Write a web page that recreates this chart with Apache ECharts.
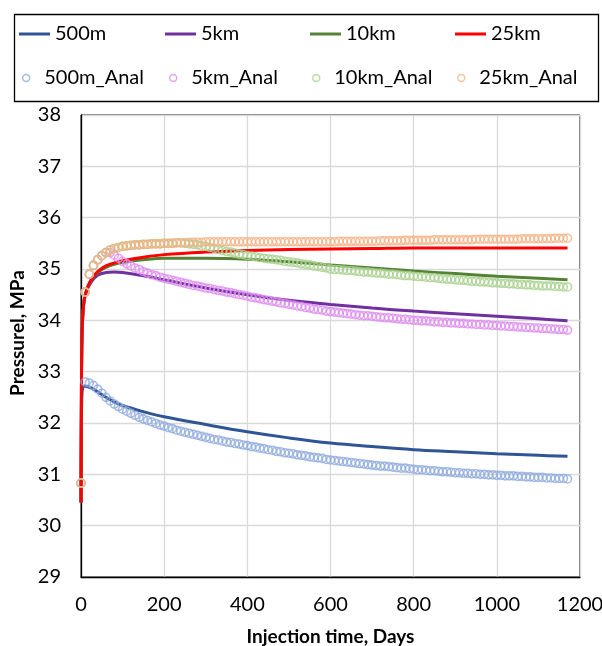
<!DOCTYPE html>
<html>
<head>
<meta charset="utf-8">
<title>Pressure vs injection time</title>
<script src="https://cdn.jsdelivr.net/npm/echarts@6/dist/echarts.min.js"></script>
<style>
  html, body { margin: 0; padding: 0; background: #fff; }
  #chart { width: 602px; height: 646px; }
</style>
</head>
<body>
<div id="chart"></div>
<script>
// simulation curves (days / MPa)
const lineDays = [0, 1, 2, 4, 8, 15, 25, 40, 60, 80, 100, 150, 200, 300, 400, 500, 600, 700, 800, 900, 1000, 1100, 1170];
const sim500m = [30.45, 32.0, 32.5, 32.68, 32.72, 32.71, 32.68, 32.61, 32.50, 32.41, 32.34, 32.22, 32.12, 31.97, 31.83, 31.71, 31.61, 31.54, 31.48, 31.44, 31.40, 31.37, 31.35];
const sim5km = [30.45, 32.6, 33.5, 34.05, 34.40, 34.60, 34.75, 34.88, 34.93, 34.94, 34.93, 34.87, 34.79, 34.63, 34.50, 34.39, 34.31, 34.24, 34.18, 34.13, 34.08, 34.03, 33.99];
const sim10km = [30.45, 32.6, 33.5, 34.05, 34.42, 34.63, 34.79, 34.93, 35.03, 35.09, 35.13, 35.18, 35.21, 35.21, 35.19, 35.14, 35.08, 35.02, 34.96, 34.91, 34.86, 34.82, 34.79];
const sim25km = [30.45, 32.6, 33.5, 34.05, 34.42, 34.63, 34.80, 34.95, 35.06, 35.12, 35.16, 35.23, 35.28, 35.33, 35.36, 35.38, 35.39, 35.40, 35.41, 35.41, 35.41, 35.41, 35.41];

// analytical solution, one value every 10 days
const analDays = [0, 10, 20, 30, 40, 50, 60, 70, 80, 90, 100,
  110, 120, 130, 140, 150, 160, 170, 180, 190, 200,
  210, 220, 230, 240, 250, 260, 270, 280, 290, 300,
  310, 320, 330, 340, 350, 360, 370, 380, 390, 400,
  410, 420, 430, 440, 450, 460, 470, 480, 490, 500,
  510, 520, 530, 540, 550, 560, 570, 580, 590, 600,
  610, 620, 630, 640, 650, 660, 670, 680, 690, 700,
  710, 720, 730, 740, 750, 760, 770, 780, 790, 800,
  810, 820, 830, 840, 850, 860, 870, 880, 890, 900,
  910, 920, 930, 940, 950, 960, 970, 980, 990, 1000,
  1010, 1020, 1030, 1040, 1050, 1060, 1070, 1080, 1090, 1100,
  1110, 1120, 1130, 1140, 1150, 1160, 1170];
const anal500m = [30.83, 32.80, 32.78, 32.73, 32.66, 32.58, 32.50, 32.43, 32.37, 32.32, 32.27,
  32.23, 32.19, 32.15, 32.11, 32.08, 32.05, 32.02, 31.99, 31.96, 31.94,
  31.91, 31.89, 31.86, 31.84, 31.82, 31.80, 31.78, 31.76, 31.74, 31.72,
  31.70, 31.68, 31.67, 31.65, 31.63, 31.62, 31.60, 31.59, 31.57, 31.56,
  31.54, 31.53, 31.51, 31.50, 31.48, 31.47, 31.45, 31.44, 31.42, 31.41,
  31.40, 31.38, 31.37, 31.36, 31.34, 31.33, 31.32, 31.31, 31.29, 31.28,
  31.27, 31.26, 31.25, 31.24, 31.23, 31.22, 31.21, 31.20, 31.19, 31.18,
  31.17, 31.16, 31.16, 31.15, 31.14, 31.13, 31.12, 31.12, 31.11, 31.10,
  31.09, 31.09, 31.08, 31.07, 31.07, 31.06, 31.05, 31.05, 31.04, 31.03,
  31.03, 31.02, 31.02, 31.01, 31.01, 31.00, 31.00, 30.99, 30.99, 30.98,
  30.98, 30.97, 30.97, 30.97, 30.96, 30.96, 30.95, 30.95, 30.94, 30.94,
  30.94, 30.93, 30.93, 30.92, 30.92, 30.92, 30.91];
const anal5km = [30.83, 34.55, 34.90, 35.07, 35.18, 35.26, 35.32, 35.32, 35.27, 35.21, 35.15,
  35.10, 35.06, 35.02, 34.99, 34.95, 34.92, 34.89, 34.87, 34.84, 34.82,
  34.80, 34.78, 34.76, 34.74, 34.72, 34.70, 34.68, 34.67, 34.65, 34.63,
  34.62, 34.60, 34.58, 34.57, 34.55, 34.54, 34.52, 34.50, 34.49, 34.47,
  34.45, 34.44, 34.42, 34.40, 34.39, 34.37, 34.36, 34.34, 34.33, 34.31,
  34.30, 34.28, 34.27, 34.25, 34.24, 34.22, 34.21, 34.20, 34.18, 34.17,
  34.16, 34.15, 34.14, 34.13, 34.12, 34.11, 34.10, 34.09, 34.09, 34.08,
  34.07, 34.06, 34.05, 34.05, 34.04, 34.03, 34.02, 34.02, 34.01, 34.00,
  34.00, 33.99, 33.99, 33.98, 33.97, 33.97, 33.96, 33.96, 33.95, 33.95,
  33.94, 33.94, 33.93, 33.93, 33.92, 33.92, 33.91, 33.91, 33.90, 33.90,
  33.89, 33.89, 33.88, 33.88, 33.87, 33.87, 33.86, 33.86, 33.85, 33.85,
  33.84, 33.84, 33.83, 33.83, 33.82, 33.82, 33.81];
const anal10km = [30.83, 34.55, 34.90, 35.07, 35.18, 35.26, 35.32, 35.37, 35.40, 35.42, 35.44,
  35.45, 35.46, 35.47, 35.47, 35.48, 35.48, 35.49, 35.49, 35.49, 35.50,
  35.50, 35.50, 35.51, 35.51, 35.50, 35.49, 35.48, 35.47, 35.45, 35.44,
  35.42, 35.40, 35.38, 35.36, 35.34, 35.33, 35.31, 35.29, 35.28, 35.26,
  35.25, 35.24, 35.22, 35.21, 35.20, 35.19, 35.18, 35.17, 35.15, 35.14,
  35.13, 35.12, 35.10, 35.09, 35.08, 35.06, 35.05, 35.03, 35.02, 35.00,
  34.99, 34.99, 34.98, 34.97, 34.97, 34.96, 34.95, 34.94, 34.94, 34.93,
  34.92, 34.92, 34.91, 34.90, 34.90, 34.89, 34.88, 34.87, 34.87, 34.86,
  34.85, 34.85, 34.84, 34.83, 34.83, 34.82, 34.81, 34.80, 34.80, 34.79,
  34.78, 34.78, 34.77, 34.76, 34.76, 34.75, 34.75, 34.74, 34.73, 34.73,
  34.72, 34.72, 34.71, 34.71, 34.70, 34.70, 34.69, 34.69, 34.68, 34.68,
  34.67, 34.67, 34.67, 34.66, 34.66, 34.65, 34.65];
const anal25km = [30.83, 34.55, 34.90, 35.07, 35.18, 35.26, 35.32, 35.37, 35.40, 35.42, 35.44,
  35.45, 35.46, 35.47, 35.47, 35.48, 35.48, 35.49, 35.49, 35.49, 35.50,
  35.50, 35.50, 35.51, 35.51, 35.51, 35.52, 35.52, 35.52, 35.52, 35.53,
  35.53, 35.53, 35.53, 35.53, 35.53, 35.53, 35.53, 35.53, 35.53, 35.53,
  35.53, 35.53, 35.53, 35.53, 35.53, 35.53, 35.53, 35.53, 35.53, 35.53,
  35.53, 35.53, 35.53, 35.53, 35.53, 35.53, 35.53, 35.53, 35.53, 35.53,
  35.53, 35.54, 35.54, 35.54, 35.54, 35.54, 35.54, 35.54, 35.54, 35.54,
  35.54, 35.55, 35.55, 35.55, 35.55, 35.55, 35.55, 35.56, 35.56, 35.56,
  35.56, 35.56, 35.56, 35.56, 35.57, 35.57, 35.57, 35.57, 35.57, 35.57,
  35.57, 35.57, 35.57, 35.57, 35.58, 35.58, 35.58, 35.58, 35.58, 35.58,
  35.58, 35.58, 35.58, 35.58, 35.58, 35.59, 35.59, 35.59, 35.59, 35.59,
  35.59, 35.59, 35.59, 35.60, 35.60, 35.60, 35.60];

const FONT = 'Lato';
const chart = echarts.init(document.getElementById('chart'), null, { renderer: 'canvas' });

const pair = (xs, ys) => xs.map((x, i) => [x, ys[i]]);

const lineSeries = (name, color, ys) => ({
  name: name,
  type: 'line',
  data: pair(lineDays, ys),
  color: color,
  showSymbol: false,
  smooth: 0.4,
  lineStyle: { width: 3, color: color },
  z: 2
});

const analSeries = (name, color, ys) => ({
  name: name,
  type: 'scatter',
  data: pair(analDays, ys),
  symbol: 'circle',
  symbolSize: 8,
  itemStyle: { color: 'rgba(0,0,0,0)', borderColor: color, borderWidth: 1.6 },
  z: 3
});

// one legend per entry so every item sits where it does in the original
const legendItems = [
  { name: '500m', left: 19, top: 24, line: '#2F5597' },
  { name: '5km', left: 165, top: 24, line: '#7030A0' },
  { name: '10km', left: 310, top: 24, line: '#548235' },
  { name: '25km', left: 455, top: 24, line: '#FF0000' },
  { name: '500m_Anal', left: 22, top: 68, dot: '#8FAADC' },
  { name: '5km_Anal', left: 169, top: 68, dot: '#DD8BEF' },
  { name: '10km_Anal', left: 312, top: 68, dot: '#A9D18E' },
  { name: '25km_Anal', left: 457, top: 68, dot: '#F4B183' }
];
const legends = legendItems.map(it => ({
  data: [it.name],
  left: it.left,
  top: it.top,
  padding: 0,
  selectedMode: false,
  icon: it.line ? 'rect' : 'circle',
  itemWidth: it.line ? 31 : 26,
  itemHeight: it.line ? 3 : 7,
  itemStyle: it.line
    ? { color: it.line }
    : { color: 'rgba(0,0,0,0)', borderColor: it.dot, borderWidth: 1.4 },
  textStyle: { fontFamily: FONT, fontSize: 20, color: '#000', lineHeight: 20 }
}));

const option = {
  backgroundColor: '#fff',
  animation: false,
  legend: legends,
  graphic: [{
    type: 'rect',
    left: 12,
    top: 12,
    shape: { width: 584, height: 87 },
    style: { fill: 'none', stroke: '#000', lineWidth: 1.3 }
  }],
  grid: {
    left: 81, right: 22, top: 115, bottom: 69,
    outerBoundsMode: 'none',
    show: true, borderColor: '#000', borderWidth: 1
  },
  xAxis: {
    type: 'value',
    min: 0, max: 1200, interval: 200,
    name: 'Injection time, Days',
    nameLocation: 'middle',
    nameGap: 50,
    nameTextStyle: { fontFamily: FONT, fontSize: 19, fontWeight: 'bold', color: '#000' },
    axisLine: { lineStyle: { color: '#000', width: 1.3 } },
    axisTick: { show: false },
    axisLabel: { fontFamily: FONT, fontSize: 20, color: '#000', margin: 18, formatter: v => String(v) },
    splitLine: { lineStyle: { color: '#D9D9D9', width: 1.3 } }
  },
  yAxis: {
    type: 'value',
    min: 29, max: 38, interval: 1,
    name: 'Pressurel, MPa',
    nameLocation: 'middle',
    nameGap: 48,
    nameTextStyle: { fontFamily: FONT, fontSize: 19, fontWeight: 'bold', color: '#000', padding: [0, 0, 0, 26] },
    axisLine: { show: true, lineStyle: { color: '#000', width: 1.3 } },
    axisTick: { show: false },
    axisLabel: { fontFamily: FONT, fontSize: 20, color: '#000', margin: 20 },
    splitLine: { lineStyle: { color: '#D9D9D9', width: 1.3 } }
  },
  series: [
    lineSeries('500m', '#2F5597', sim500m),
    lineSeries('5km', '#7030A0', sim5km),
    lineSeries('10km', '#548235', sim10km),
    lineSeries('25km', '#FF0000', sim25km),
    analSeries('500m_Anal', '#8FAADC', anal500m),
    analSeries('5km_Anal', '#DD8BEF', anal5km),
    analSeries('10km_Anal', '#A9D18E', anal10km),
    analSeries('25km_Anal', '#F4B183', anal25km)
  ]
};

chart.setOption(option);
</script>
</body>
</html>
